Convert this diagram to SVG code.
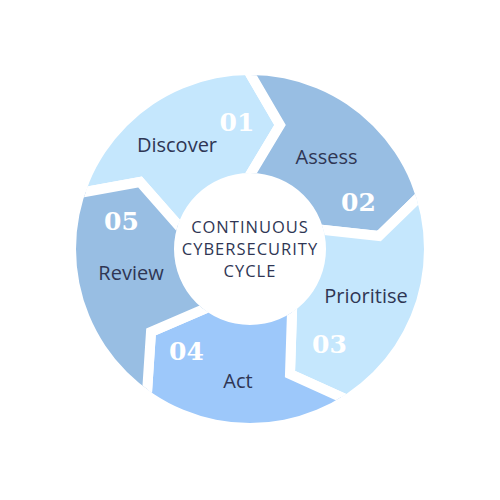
<svg xmlns="http://www.w3.org/2000/svg" width="500" height="500" viewBox="0 0 500 500">
<style>
.seg{stroke:#ffffff;stroke-width:10;stroke-linejoin:miter}
.light{fill:#c5e7fd}
.mid{fill:#98bee3}
.act{fill:#9dc8fa}
.lbl{font-family:"Open Sans","DejaVu Sans",sans-serif;font-size:20px;fill:#2f3654;text-anchor:middle}
.num{font-family:"DejaVu Serif","Liberation Serif",serif;font-weight:bold;font-size:25px;fill:#ffffff;text-anchor:middle}
.ctr{font-family:"Open Sans","DejaVu Sans",sans-serif;font-size:16.5px;letter-spacing:1px;fill:#2f3654;text-anchor:middle}
</style>
<defs>
<clipPath id="ring">
<path clip-rule="evenodd" d="M76,249 a174,174 0 1,0 348,0 a174,174 0 1,0 -348,0 Z M174,249 a76,76 0 1,0 152,0 a76,76 0 1,0 -152,0 Z"/>
</clipPath>
</defs>
<rect width="500" height="500" fill="#ffffff"/>
<g id="segments" clip-path="url(#ring)">
<g id="discover"><path class="seg light" d="M191.8,240.8 L140,182 L63,196 L77.9,3.2 L240.8,57.8 L280,125 L241,190 L250,249 Z"/></g>
<g id="assess"><path class="seg mid" d="M241,190 L280,125 L240.8,57.8 L430.5,9.4 L433,183.5 L379,236 L306,228 L250,249 Z"/></g>
<g id="prioritise"><path class="seg light" d="M306,228 L379,236 L433,183.5 L531,354 L364.2,407.6 L290,374 L292.6,293.4 L250,249 Z"/></g>
<g id="act"><path class="seg act" d="M292.6,293.4 L290,374 L364.2,407.6 L239.5,548.8 L145.7,413 L151,332 L217.3,303.4 L250,249 Z"/></g>
<g id="review"><path class="seg mid" d="M217.3,303.4 L151,332 L145.7,413 L-36.9,336.7 L63,196 L140,182 L191.8,240.8 L250,249 Z"/></g>
</g>
<g id="connectors"></g>
<g id="labels">
<text class="num" x="237" y="131">01</text>
<text class="lbl" x="177" y="152">Discover</text>
<text class="num" x="358.5" y="211">02</text>
<text class="lbl" x="326.5" y="164">Assess</text>
<text class="num" x="329.5" y="353">03</text>
<text class="lbl" x="366" y="303">Prioritise</text>
<text class="num" x="186.5" y="360">04</text>
<text class="lbl" x="238" y="388">Act</text>
<text class="num" x="121.5" y="230">05</text>
<text class="lbl" x="131" y="280">Review</text>
</g>
<g id="center">
<text class="ctr" x="250" y="233">CONTINUOUS</text>
<text class="ctr" x="250" y="255">CYBERSECURITY</text>
<text class="ctr" x="250" y="277">CYCLE</text>
</g>
</svg>
